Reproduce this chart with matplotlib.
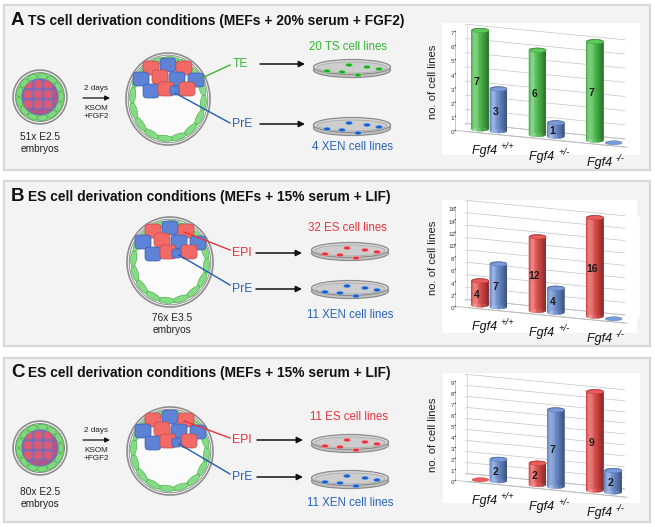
import numpy as np
import matplotlib
matplotlib.use("Agg")
import matplotlib.pyplot as plt
from matplotlib.patches import Rectangle, Circle, Ellipse, FancyBboxPatch
from mpl_toolkits.mplot3d.art3d import Poly3DCollection

plt.rcParams['font.family'] = ['Liberation Sans', 'DejaVu Sans']

W, H = 655, 527

# ------------------------------------------------------------------
# Data (cell lines per Fgf4 genotype)
# ------------------------------------------------------------------
genotypes = ["+/+", "+/-", "-/-"]
a_ts = [7, 6, 7]
a_xen = [3, 1, 0]
b_es = [4, 12, 16]
b_xen = [7, 4, 0]
c_es = [0, 2, 9]
c_xen = [2, 7, 2]
a_ticks = list(range(0, 8))
b_ticks = list(range(0, 17, 2))
c_ticks = list(range(0, 10))

panel_letters = ["A", "B", "C"]
panel_titles = ["TS cell derivation conditions (MEFs + 20% serum + FGF2)",
                "ES cell derivation conditions (MEFs + 15% serum + LIF)",
                "ES cell derivation conditions (MEFs + 15% serum + LIF)"]
embryo_labels = ["51x E2.5\nembryos", "76x E3.5\nembryos", "80x E2.5\nembryos"]
upper_labels = ["TE", "EPI", "EPI"]
upper_lines = ["20 TS cell lines", "32 ES cell lines", "11 ES cell lines"]
lower_lines = ["4 XEN cell lines", "11 XEN cell lines", "11 XEN cell lines"]

GREEN = "#4cc44c"
BLUE = "#6a8fd6"
RED = "#ea4a48"
TXT_GREEN = "#34b534"
TXT_BLUE = "#2a62b8"
TXT_RED = "#e8343c"
EDGE = "#bcbcbc"

fig = plt.figure(figsize=(W / 100, H / 100), dpi=100)
base = fig.add_axes([0, 0, 1, 1])
base.set_xlim(0, W)
base.set_ylim(H, 0)
base.axis("off")


def px_rect(x0, y0, x1, y1):
    return [x0 / W, 1 - y1 / H, (x1 - x0) / W, (y1 - y0) / H]


# ------------------------------------------------------------------
# Drawing helpers for the schematic part
# ------------------------------------------------------------------

def morula(cx, cy):
    base.add_patch(Circle((cx, cy), 27, fc="#ececec", ec="#8a8a8a", lw=1.1, zorder=2))
    base.add_patch(Circle((cx, cy), 24.5, fc="#8edc8e", ec="#7a7a7a", lw=0.5, zorder=2))
    n = 13
    for k in range(n):
        phi = 2 * np.pi * k / n
        ex, ey = cx + 21 * np.cos(phi), cy + 21 * np.sin(phi)
        ang = np.degrees(np.arctan2(np.cos(phi), -np.sin(phi)))
        base.add_patch(Ellipse((ex, ey), 10, 6, angle=ang, fc="#7fd87f",
                               ec="#45a845", lw=0.4, zorder=3))
    inner = Circle((cx, cy), 18, fc="#b0568a", ec="#6070c0", lw=0.6, zorder=3)
    base.add_patch(inner)
    for gx in (-12, -2, 8):
        for gy in (-13, -3, 7):
            cell = FancyBboxPatch((cx + gx - 4.5, cy + gy - 4.5), 9.5, 9.5,
                                  boxstyle="round,pad=0,rounding_size=3",
                                  fc="#dc5a72", ec="#6a72c8", lw=0.9, zorder=4)
            base.add_patch(cell)
            cell.set_clip_path(inner)


icm_cells = [(-17, -31, "r"), (0, -34, "b"), (16, -31, "r"),
             (-27, -20, "b"), (-8, -22, "r"), (9, -20, "b"), (28, -19, "b"),
             (-17, -8, "b"), (-2, -10, "r"), (19, -10, "r")]


def blastocyst(cx, cy, rx, ry):
    base.add_patch(Ellipse((cx, cy), 2 * rx, 2 * ry, fc="#fbfbfb", ec="#8c8c8c", lw=1.2, zorder=2))
    base.add_patch(Ellipse((cx, cy), 2 * rx - 4.5, 2 * ry - 4.5, fc="none", ec="#9a9a9a", lw=0.8, zorder=2))
    n = 16
    for k in range(n):
        phi = 2 * np.pi * k / n + 0.1
        ex = cx + (rx - 6.5) * np.cos(phi)
        ey = cy + (ry - 6.5) * np.sin(phi)
        ang = np.degrees(np.arctan2((ry - 6.5) * np.cos(phi), -(rx - 6.5) * np.sin(phi)))
        base.add_patch(Ellipse((ex, ey), 17, 6, angle=ang, fc="#86dc86",
                               ec="#3da83d", lw=0.4, zorder=3))
    for dx, dy, c in icm_cells:
        fc, ec = ("#f26a66", "#c04c4c") if c == "r" else ("#5d82d6", "#3a5cac")
        base.add_patch(FancyBboxPatch((cx + dx - 8, cy + dy - 7), 16, 14,
                                      boxstyle="round,pad=0,rounding_size=4",
                                      fc=fc, ec=ec, lw=0.5, zorder=4))
    base.add_patch(FancyBboxPatch((cx + 2, cy - 13), 9, 9,
                                  boxstyle="round,pad=0,rounding_size=2.5",
                                  fc="#5d82d6", ec="#3a5cac", lw=0.5, zorder=5))


dot_pos = [(-25, 4), (-10, 5), (-3, -2), (6, 8), (15, 0), (27, 2)]


def dish(cx, cy, dot_col, halo_col):
    base.add_patch(Ellipse((cx, cy + 3), 77, 15, fc="#c4c4c4", ec="#8c8c8c", lw=0.9, zorder=2))
    base.add_patch(Ellipse((cx, cy), 77, 15, fc="#d8d8d8", ec="#8c8c8c", lw=0.9, zorder=2))
    base.add_patch(Ellipse((cx, cy + 0.5), 70, 11, fc="#cdcdcd", ec="#a4a4a4", lw=0.5, zorder=2))
    for dx, dy in dot_pos:
        base.add_patch(Ellipse((cx + dx, cy + dy), 8, 4, fc=halo_col, ec="none", zorder=3))
        base.add_patch(Ellipse((cx + dx, cy + dy), 6, 2.8, fc=dot_col, ec="none", zorder=3))


def arrow(x0, x1, y, lw=1.1, ms=9):
    base.annotate("", xy=(x1, y), xytext=(x0, y),
                  arrowprops=dict(arrowstyle="-|>", color="#111111", lw=lw,
                                  mutation_scale=ms, shrinkA=0, shrinkB=0), zorder=5)


def culture_step(x, y):
    base.text(x, y - 10, "2 days", ha="center", va="center", fontsize=5.9, color="#222222")
    arrow(x - 13, x + 14, y, lw=0.9, ms=7)
    base.text(x, y + 14, "KSOM\n+FGF2", ha="center", va="center", fontsize=5.9,
              color="#222222", linespacing=1.2)


# ------------------------------------------------------------------
# 3D cylinder chart helpers
# ------------------------------------------------------------------
ELEV, AZIM = 14, -68


def shade(color, t):
    rgb = np.array(matplotlib.colors.to_rgb(color))
    d = t - np.radians(AZIM) + np.radians(35)
    c = max(np.cos(d), 0.0)
    out = rgb * (0.62 + 0.38 * c) + (1 - rgb) * 0.35 * c ** 8
    return tuple(np.clip(out, 0, 1))


def cylinder(ax, xc, yc, rx, ry, h, color, zorder):
    t = np.linspace(0, 2 * np.pi, 41)
    xs = xc + rx * np.cos(t)
    ys = yc + ry * np.sin(t)
    if h > 0:
        polys, fcs = [], []
        for k in range(len(t) - 1):
            polys.append([(xs[k], ys[k], 0), (xs[k + 1], ys[k + 1], 0),
                          (xs[k + 1], ys[k + 1], h), (xs[k], ys[k], h)])
            fcs.append(shade(color, 0.5 * (t[k] + t[k + 1])))
        side = Poly3DCollection(polys, facecolors=fcs, edgecolors=fcs, linewidths=0.2)
        side.set_zorder(zorder)
        ax.add_collection3d(side)
    top = np.array(matplotlib.colors.to_rgb(color))
    cap = Poly3DCollection([list(zip(xs, ys, np.full_like(xs, h)))],
                           facecolors=[tuple(top * 0.9 + 0.1)],
                           edgecolors=[tuple(top * 0.8)], linewidths=0.3)
    cap.set_zorder(zorder + 0.5)
    ax.add_collection3d(cap)


def chart(rect, vals1, col1, vals2, col2, ticks, zoom):
    ax = fig.add_axes(rect, projection="3d", computed_zorder=False)
    ax.set_proj_type("ortho")
    ax.view_init(elev=ELEV, azim=AZIM)
    zmax = ticks[-1]
    ax.set_xlim(-0.5, 2.5)
    ax.set_ylim(0, 1)
    ax.set_zlim(0, zmax)
    ax.set_box_aspect((3, 0.5, 1.65), zoom=zoom)
    ax.set_facecolor((1, 1, 1, 0))
    ax.grid(False)
    for axis in (ax.xaxis, ax.yaxis, ax.zaxis):
        axis.set_pane_color((1, 1, 1, 1))
        axis.pane.set_edgecolor((1, 1, 1, 0))
        axis.line.set_color(EDGE)
        axis.line.set_linewidth(0.6)
        axis.label.set_visible(False)
        axis.offsetText.set_visible(False)
        axis._axinfo["tick"]["inward_factor"] = 0
        axis._axinfo["tick"]["outward_factor"] = 0.12
        axis._axinfo["tick"]["color"] = EDGE
    ax.yaxis.line.set_color((1, 1, 1, 0))
    ax.set_xticks([])
    ax.set_yticks([])
    ax.set_zticks(ticks)
    ax.zaxis.set_ticks_position("lower")
    ax.zaxis.set_tick_params(labelsize=4.5, pad=-7, colors="#333333")
    for v in ticks:
        ax.plot([-0.5, -0.5, 2.5], [0, 1, 1], [v, v, v], color="#c4c4c4", lw=0.5, zorder=1)
    # floor outline and back corner
    ax.plot([-0.5, 2.5, 2.5, -0.5, -0.5], [0, 0, 1, 1, 0], [0, 0, 0, 0, 0],
            color=EDGE, lw=0.6, zorder=1)
    ax.plot([-0.5, -0.5], [1, 1], [0, zmax], color="#d0d0d0", lw=0.5, zorder=1)
    rx = 0.135
    ry = rx * 3 / 0.5 / 3
    z = 2
    for i in range(len(genotypes)):
        for off, vals, col in ((-0.16, vals1, col1), (0.16, vals2, col2)):
            cylinder(ax, i + off, 0.45, rx, ry, vals[i], col, z)
            z += 1
            if vals[i] > 0:
                ax.text(i + off, 0.45 - ry, vals[i] / 2, str(vals[i]), ha="center",
                        va="center", fontsize=7.5, fontweight="bold", color="#1a1a1a",
                        zorder=100)
        lx, ly, lz = i + 0.33, -0.2, -0.15 * zmax
        ax.text(lx, ly, lz, "Fgf4 ", ha="right", va="center", fontsize=9,
                fontstyle="italic", color="#111111", zorder=100)
        ax.text(lx, ly, lz, genotypes[i], ha="left", va="bottom", fontsize=6.8,
                fontstyle="italic", color="#111111", zorder=100)
    return ax


# ------------------------------------------------------------------
# Panels
# ------------------------------------------------------------------
panels = [(4, 5, 650, 170), (4, 181, 650, 346), (4, 358, 650, 522)]
title_y = [25, 201, 377]
white = [(442, 23, 640, 155), (442, 200, 637, 333), (443, 373, 640, 503)]

for k, (x0, y0, x1, y1) in enumerate(panels):
    base.add_patch(Rectangle((x0, y0), x1 - x0, y1 - y0, fc="#f3f3f3", ec="#d8d8d8", lw=1.6, zorder=0))
    wx0, wy0, wx1, wy1 = white[k]
    base.add_patch(Rectangle((wx0, wy0), wx1 - wx0, wy1 - wy0, fc="white", ec="none", zorder=1))
    base.text(11, title_y[k], panel_letters[k], fontsize=13.5, fontweight="bold",
              va="baseline", ha="left", color="#111111")
    base.text(28, title_y[k], panel_titles[k], fontsize=9.9, fontweight="bold",
              va="baseline", ha="left", color="#111111")
    base.text(433, y0 + 77, "no. of cell lines", rotation=90, ha="center", va="center",
              fontsize=8.1, color="#222222")

# Panel A schematic
morula(40, 97)
base.text(40, 143, embryo_labels[0], ha="center", va="center", fontsize=7.3,
          color="#222222", linespacing=1.25)
culture_step(96, 98)
blastocyst(168, 99, 42, 46)
base.plot([202, 230], [78, 65], color=TXT_GREEN, lw=1.0, zorder=6)
base.plot([175, 230], [93, 123], color="#1f5fb0", lw=1.0, zorder=6)
base.text(233, 64, upper_labels[0], ha="left", va="center", fontsize=8.7, color=TXT_GREEN)
base.text(232, 124, "PrE", ha="left", va="center", fontsize=8.7, color=TXT_BLUE)
arrow(260, 305, 64)
arrow(260, 305, 124)
dish(352, 67, "#1faa1f", "#86e086")
dish(352, 125, "#1a5fc8", "#7fb0ee")
base.text(348, 47, upper_lines[0], ha="center", va="center", fontsize=8.3, color=TXT_GREEN)
base.text(352, 147, lower_lines[0], ha="center", va="center", fontsize=8.3, color=TXT_BLUE)

# Panel B schematic
blastocyst(170, 262, 43, 45)
base.text(172, 324, embryo_labels[1], ha="center", va="center", fontsize=7.3,
          color="#222222", linespacing=1.25)
base.plot([184, 230], [232, 250], color=TXT_RED, lw=1.0, zorder=6)
base.plot([179, 230], [255, 285], color="#1f5fb0", lw=1.0, zorder=6)
base.text(232, 253, upper_labels[1], ha="left", va="center", fontsize=8.7, color=TXT_RED)
base.text(232, 289, "PrE", ha="left", va="center", fontsize=8.7, color=TXT_BLUE)
arrow(256, 302, 253)
arrow(256, 302, 289)
dish(350, 250, "#e8303a", "#f79a9a")
dish(350, 288, "#1a5fc8", "#7fb0ee")
base.text(347, 228, upper_lines[1], ha="center", va="center", fontsize=8.3, color=TXT_RED)
base.text(350, 315, lower_lines[1], ha="center", va="center", fontsize=8.3, color=TXT_BLUE)

# Panel C schematic
morula(40, 448)
base.text(40, 498, embryo_labels[2], ha="center", va="center", fontsize=7.3,
          color="#222222", linespacing=1.25)
culture_step(96, 440)
blastocyst(170, 451, 43, 44)
base.plot([184, 230], [421, 438], color=TXT_RED, lw=1.0, zorder=6)
base.plot([179, 230], [444, 474], color="#1f5fb0", lw=1.0, zorder=6)
base.text(232, 440, upper_labels[2], ha="left", va="center", fontsize=8.7, color=TXT_RED)
base.text(232, 477, "PrE", ha="left", va="center", fontsize=8.7, color=TXT_BLUE)
arrow(257, 303, 440)
arrow(257, 303, 477)
dish(350, 442, "#e8303a", "#f79a9a")
dish(350, 478, "#1a5fc8", "#7fb0ee")
base.text(349, 417, upper_lines[2], ha="center", va="center", fontsize=8.3, color=TXT_RED)
base.text(350, 503, lower_lines[2], ha="center", va="center", fontsize=8.3, color=TXT_BLUE)

# Charts
chart(px_rect(438, 8, 652, 168), a_ts, GREEN, a_xen, BLUE, a_ticks, 1.3)
chart(px_rect(438, 184, 652, 344), b_es, RED, b_xen, BLUE, b_ticks, 1.3)
chart(px_rect(438, 358, 652, 518), c_es, RED, c_xen, BLUE, c_ticks, 1.3)

fig.savefig("out.png", dpi=100, facecolor="white")
